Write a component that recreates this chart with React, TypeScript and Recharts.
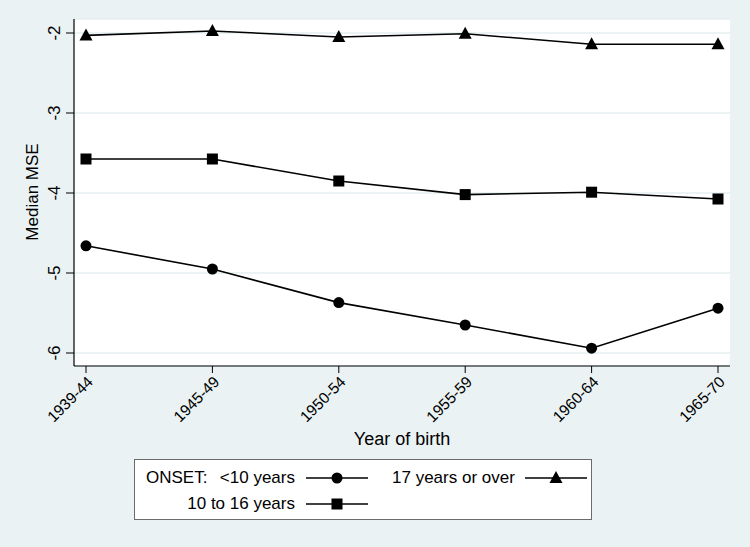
import React from 'react';
import { LineChart, Line, XAxis, YAxis, CartesianGrid, Label } from 'recharts';

const categories = ['1939-44', '1945-49', '1950-54', '1955-59', '1960-64', '1965-70'];
const under10 = [-4.66, -4.95, -5.37, -5.65, -5.94, -5.44];
const from10to16 = [-3.575, -3.575, -3.85, -4.02, -3.99, -4.075];
const over17 = [-2.03, -1.975, -2.05, -2.01, -2.14, -2.14];
const yTicks = [-6, -5, -4, -3, -2];

const data = categories.map((c, i) => ({
  cat: c,
  under10: under10[i],
  from10to16: from10to16[i],
  over17: over17[i],
}));

const FONT = 'Arial, "Liberation Sans", sans-serif';
const BG = '#eaf2f3';

const CircleDot = (p: any) => <circle key={p.index} cx={p.cx} cy={p.cy} r={5.5} fill="#000" />;
const SquareDot = (p: any) => <rect key={p.index} x={p.cx - 5.5} y={p.cy - 5.5} width={11} height={11} fill="#000" />;
const TriDot = (p: any) => (
  <path key={p.index} d={`M${p.cx},${p.cy - 7} L${p.cx + 6.5},${p.cy + 5} L${p.cx - 6.5},${p.cy + 5} Z`} fill="#000" />
);

const XTick = (p: any) => {
  const x = p.x + 4;
  const y = p.y + 4;
  return (
    <text x={x} y={y} transform={`rotate(-45, ${x}, ${y})`} textAnchor="end" dominantBaseline="central"
      fontFamily={FONT} fontSize={15.5} fill="#000">
      {p.payload.value}
    </text>
  );
};

const YTick = (p: any) => {
  const x = p.x - 4;
  const y = p.y;
  return (
    <text x={x} y={y} transform={`rotate(-90, ${x}, ${y})`} textAnchor="middle"
      fontFamily={FONT} fontSize={17} fill="#000">
      {p.payload.value}
    </text>
  );
};

const LegendMarker = ({ kind }: { kind: string }) => (
  <svg width={64} height={14} style={{ position: 'absolute' }}>
    <line x1={1} y1={7} x2={63} y2={7} stroke="#000" strokeWidth={1.6} />
    {kind === 'circle' && <circle cx={32} cy={7} r={5.5} fill="#000" />}
    {kind === 'square' && <rect x={26.5} y={1.5} width={11} height={11} fill="#000" />}
    {kind === 'tri' && <path d="M32,0 L38.5,12 L25.5,12 Z" fill="#000" />}
  </svg>
);

const LegendBox = () => {
  const txt: React.CSSProperties = { position: 'absolute', fontFamily: FONT, fontSize: 17, color: '#000', whiteSpace: 'nowrap', lineHeight: '20px' };
  return (
    <div style={{ position: 'absolute', left: 134, top: 459, width: 456, height: 59, background: '#fff', border: '1px solid #6b6b6b' }}>
      <span style={{ ...txt, left: 11, top: 8 }}>ONSET:</span>
      <span style={{ ...txt, right: 296, top: 8 }}>&lt;10 years</span>
      <div style={{ position: 'absolute', left: 170, top: 11 }}><LegendMarker kind="circle" /></div>
      <span style={{ ...txt, left: 257, top: 8 }}>17 years or over</span>
      <div style={{ position: 'absolute', left: 389, top: 11 }}><LegendMarker kind="tri" /></div>
      <span style={{ ...txt, right: 296, top: 34 }}>10 to 16 years</span>
      <div style={{ position: 'absolute', left: 170, top: 37 }}><LegendMarker kind="square" /></div>
    </div>
  );
};

export default function App() {
  return (
    <div style={{ position: 'absolute', left: 0, top: 0, width: 750, height: 547, background: BG }}>
      <LineChart width={750} height={547} data={data} margin={{ top: 19, right: 20, left: 14, bottom: 121 }}>
        <CartesianGrid horizontal={true} vertical={false} fill="#fff" stroke="#e6eff1" strokeWidth={1.5} />
        <XAxis dataKey="cat" type="category" padding={{ left: 12, right: 12 }} height={60}
          tick={<XTick />} tickSize={7} tickLine={{ stroke: '#000' }} axisLine={{ stroke: '#000', strokeWidth: 1.2 }}
          interval={0}>
          <Label content={() => (
            <text x={402} y={445} textAnchor="middle" fontFamily={FONT} fontSize={18} fill="#000">Year of birth</text>
          )} />
        </XAxis>
        <YAxis type="number" domain={[-6.1625, -1.825]} ticks={yTicks} allowDataOverflow width={60}
          tick={<YTick />} tickSize={8} tickLine={{ stroke: '#000' }} axisLine={{ stroke: '#000', strokeWidth: 1.2 }}>
          <Label content={() => (
            <text x={38} y={192} transform="rotate(-90, 38, 192)" textAnchor="middle" fontFamily={FONT} fontSize={17} fill="#000">Median MSE</text>
          )} />
        </YAxis>
        <Line dataKey="under10" name="<10 years" stroke="#000" strokeWidth={1.6} dot={CircleDot} isAnimationActive={false} />
        <Line dataKey="from10to16" name="10 to 16 years" stroke="#000" strokeWidth={1.6} dot={SquareDot} isAnimationActive={false} />
        <Line dataKey="over17" name="17 years or over" stroke="#000" strokeWidth={1.6} dot={TriDot} isAnimationActive={false} />
      </LineChart>
      <LegendBox />
    </div>
  );
}
